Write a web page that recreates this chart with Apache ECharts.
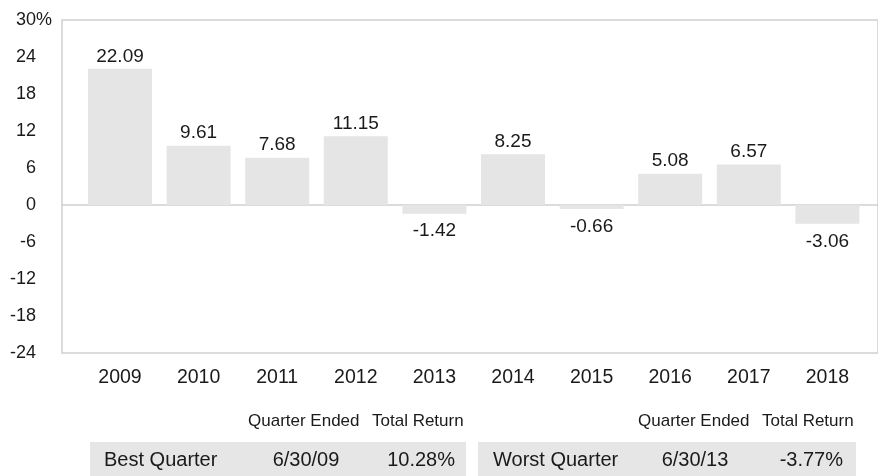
<!DOCTYPE html>
<html>
<head>
<meta charset="utf-8">
<script src="https://cdn.jsdelivr.net/npm/echarts@6/dist/echarts.min.js"></script>
<style>
  html, body { margin: 0; padding: 0; background: #fff; }
  #pic1 { width: 878px; height: 476px; }
</style>
</head>
<body>
<div id="pic1"></div>
<script>
// data
var years = ["2009", "2010", "2011", "2012", "2013", "2014", "2015", "2016", "2017", "2018"];
var returns = [22.09, 9.61, 7.68, 11.15, -1.42, 8.25, -0.66, 5.08, 6.57, -3.06];
var tableHeads = ["Quarter Ended", "Total Return"];
var bestRow = ["Best Quarter", "6/30/09", "10.28%"];
var worstRow = ["Worst Quarter", "6/30/13", "-3.77%"];

var font = '"Liberation Sans", Arial, Helvetica, sans-serif';
var lineColor = "#d0d0d0";
var textColor = "#1a1a1a";

const myChart = echarts.init(document.getElementById("pic1"));

function txt(x, y, text, align, size) {
  return {
    type: "text",
    x: x,
    y: y,
    style: {
      text: text,
      fill: textColor,
      font: size + "px " + font,
      textAlign: align,
      textVerticalAlign: "middle",
    },
  };
}

var graphics = [
  { type: "rect", shape: { x: 90, y: 442, width: 376, height: 40 }, style: { fill: "#e6e6e6" } },
  { type: "rect", shape: { x: 478, y: 442, width: 378, height: 40 }, style: { fill: "#e6e6e6" } },
  txt(248, 421, tableHeads[0], "left", 17),
  txt(372, 421, tableHeads[1], "left", 17),
  txt(638, 421, tableHeads[0], "left", 17),
  txt(762, 421, tableHeads[1], "left", 17),
  txt(104, 460, bestRow[0], "left", 20),
  txt(306, 460, bestRow[1], "center", 20),
  txt(455, 460, bestRow[2], "right", 20),
  txt(493, 460, worstRow[0], "left", 20),
  txt(695, 460, worstRow[1], "center", 20),
  txt(843, 460, worstRow[2], "right", 20),
];

const option = {
  backgroundColor: "#fff",
  animation: false,
  textStyle: { fontFamily: font },
  grid: [
    // frame (top / left / bottom lines)
    { left: 62, right: -5, top: 20, bottom: 123, show: true, borderColor: lineColor, borderWidth: 1.5, backgroundColor: "transparent" },
    // bars
    { left: 80.7, right: 11.3, top: 20, bottom: 123 },
  ],
  xAxis: [
    {
      gridIndex: 0,
      type: "category",
      data: years,
      axisLine: { show: true, onZero: true, lineStyle: { color: lineColor, width: 1.5 } },
      axisTick: { show: false },
      axisLabel: { show: false },
      splitLine: { show: false },
    },
    {
      gridIndex: 1,
      type: "category",
      data: years,
      axisLine: { show: false, onZero: false },
      axisTick: { show: false },
      splitLine: { show: false },
      axisLabel: { color: textColor, fontSize: 19.5, margin: 15, interval: 0, fontFamily: font },
    },
  ],
  yAxis: [
    {
      gridIndex: 0,
      type: "value",
      min: -24,
      max: 30,
      interval: 6,
      axisLine: { show: false },
      axisTick: { show: false },
      splitLine: { show: false },
      axisLabel: {
        color: textColor,
        fontSize: 18,
        margin: 10,
        fontFamily: font,
        // keep numbers right-aligned under "30", only the top one shows "%"
        formatter: function (v) {
          return v === 30 ? v + "{p|%}" : v + "{h|%}";
        },
        rich: {
          p: { color: textColor, fontSize: 18, fontFamily: font },
          h: { color: "rgba(0,0,0,0)", fontSize: 18, fontFamily: font },
        },
      },
    },
    {
      gridIndex: 1,
      type: "value",
      min: -24,
      max: 30,
      interval: 6,
      axisLine: { show: false },
      axisTick: { show: false },
      splitLine: { show: false },
      axisLabel: { show: false },
    },
  ],
  series: [
    {
      type: "bar",
      xAxisIndex: 1,
      yAxisIndex: 1,
      barWidth: 64,
      data: returns.map(function (v) {
        return {
          value: v,
          label: { position: v < 0 ? "bottom" : "top", distance: v < 0 ? 8 : 3 },
        };
      }),
      itemStyle: { color: "#e5e5e5" },
      label: {
        show: true,
        color: textColor,
        fontSize: 19,
        fontFamily: font,
        formatter: function (p) {
          return p.value.toFixed(2);
        },
      },
    },
  ],
  graphic: graphics,
};
myChart.setOption(option);
</script>
</body>
</html>
